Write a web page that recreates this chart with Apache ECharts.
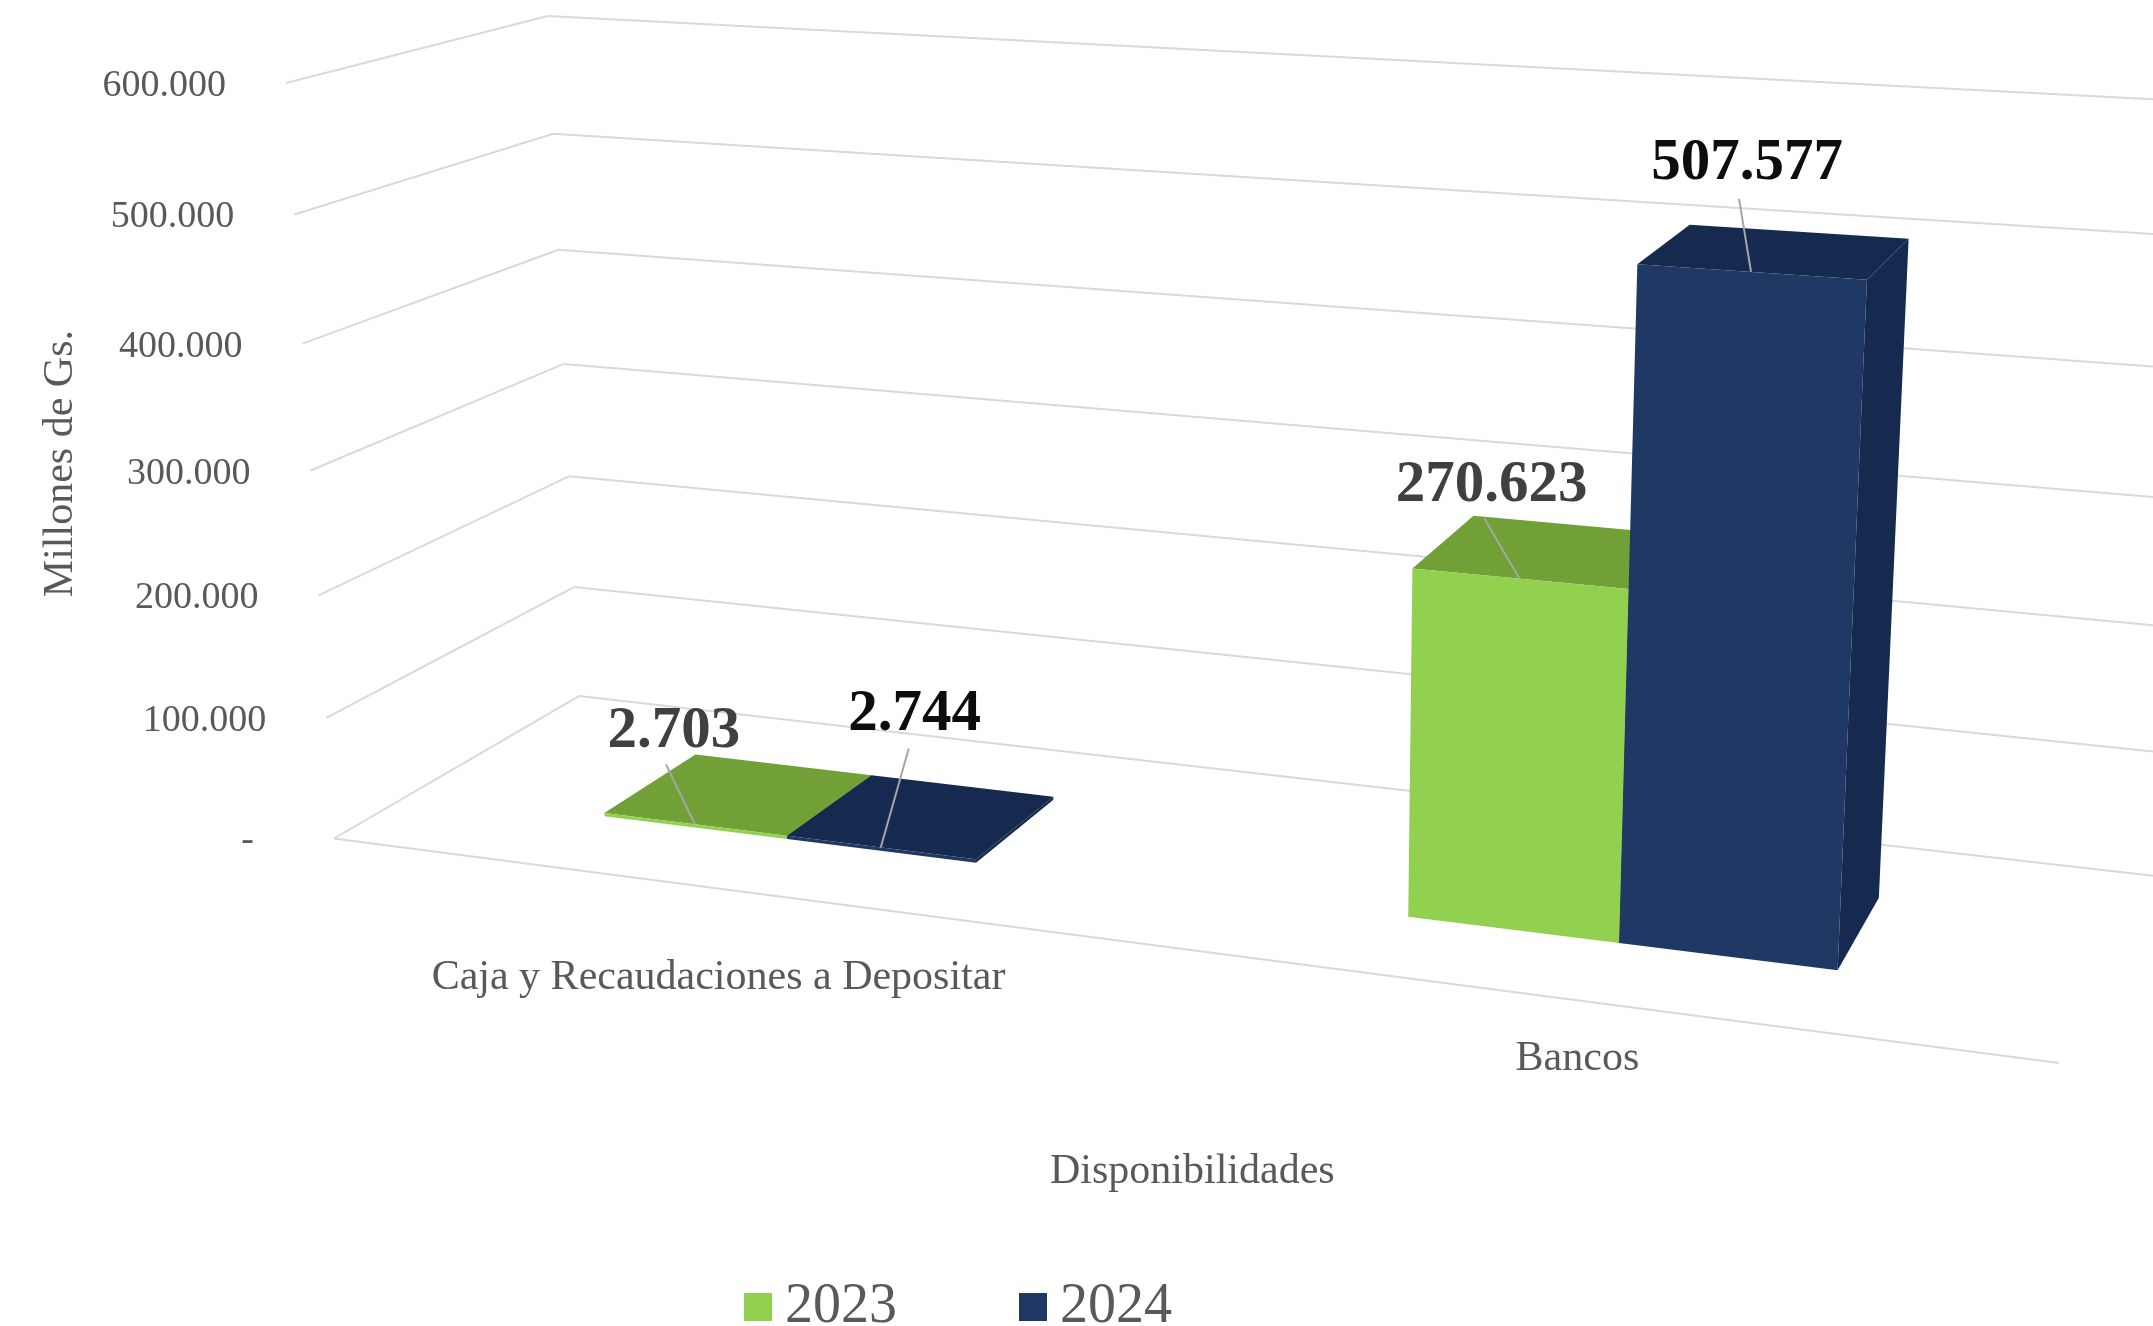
<!DOCTYPE html>
<html>
<head>
<meta charset="utf-8">
<title>Disponibilidades</title>
<style>
  html, body { margin: 0; padding: 0; background: #fff; }
  #chart { width: 2153px; height: 1326px; }
</style>
<script src="https://cdn.jsdelivr.net/npm/echarts@6/dist/echarts.min.js"></script>
</head>
<body>
<div id="chart"></div>
<script>
// data
var categories = ['Caja y Recaudaciones a Depositar', 'Bancos'];
var years = ['2023', '2024'];
var values2023 = [2703, 270623];
var values2024 = [2744, 507577];
var yTicks = [0, 100000, 200000, 300000, 400000, 500000, 600000];
var yTickLabels = ['-', '100.000', '200.000', '300.000', '400.000', '500.000', '600.000'];
var dataLabels2023 = ['2.703', '270.623'];
var dataLabels2024 = ['2.744', '507.577'];

var FONT = '"Liberation Serif", "Times New Roman", serif';
var GRID_COLOR = '#d9d9d9';
var TEXT_COLOR = '#595959';

// the floor/wall box drawn in perspective: three vanishing points + weights
var ORIGIN = [334, 838.5];
var VP_X = [-10313, -547], W_X = -0.13943;
var VP_Y = [1239, 15067], W_Y = -0.05042;
var VP_Z = [2691, -532], W_Z = 0.116;

function project(u, v, z) {
    var a = W_X * u, b = W_Y * v, c = W_Z * z;
    var d = 1 + a + b + c;
    return [
        (a * VP_X[0] + b * VP_Y[0] + c * VP_Z[0] + ORIGIN[0]) / d,
        (a * VP_X[1] + b * VP_Y[1] + c * VP_Z[1] + ORIGIN[1]) / d
    ];
}

// hidden grid is 1000x1000, so its pixels give the 0..1 box coordinates
var PLOT = 1000;
function toBox(api, cat, val) {
    var p = api.coord([cat, val]);
    return { u: p[0] / PLOT, v: (PLOT - p[1]) / PLOT };
}

var BAR_FRONT = 0.30, BAR_BACK = 0.70;
var BAR_SHARE = 0.24;   // bar width as part of a category band

function poly(points, color) {
    return { type: 'polygon', shape: { points: points }, style: { fill: color }, silent: true };
}
function line(p, q, color, width) {
    return {
        type: 'line',
        shape: { x1: p[0], y1: p[1], x2: q[0], y2: q[1] },
        style: { stroke: color, lineWidth: width, fill: null },
        silent: true
    };
}
function text(str, x, y, size, color, align, weight) {
    return {
        type: 'text',
        silent: true,
        style: {
            text: str, x: x, y: y, fill: color, align: align || 'center', verticalAlign: 'middle',
            fontFamily: FONT, fontSize: size, fontWeight: weight || 'normal'
        }
    };
}

function barRenderer(seriesPos, labels, pulls, labelColor, frontColor, darkColor) {
    return function (params, api) {
        var cat = api.value(0), val = api.value(1);
        var base = toBox(api, cat, 0), top = toBox(api, cat, val);
        var w = api.size([1, 0])[0] / PLOT * BAR_SHARE;
        var u0 = base.u + (seriesPos - 1) * w, u1 = u0 + w;
        var v0 = base.v, v1 = top.v;

        var children = [
            poly([project(u0, v1, BAR_FRONT), project(u0, v1, BAR_BACK), project(u1, v1, BAR_BACK), project(u1, v1, BAR_FRONT)], darkColor),
            poly([project(u1, v0, BAR_FRONT), project(u1, v0, BAR_BACK), project(u1, v1, BAR_BACK), project(u1, v1, BAR_FRONT)], darkColor),
            poly([project(u0, v0, BAR_FRONT), project(u1, v0, BAR_FRONT), project(u1, v1, BAR_FRONT), project(u0, v1, BAR_FRONT)], frontColor)
        ];

        // leader line and value label
        var foot = project((u0 + u1) / 2, v1, BAR_FRONT);
        var pull = pulls[cat];
        children.push(line(foot, [foot[0] + pull[0], foot[1] + pull[1]], '#a6a6a6', 2));
        children.push(text(labels[cat], foot[0] + pull[2], foot[1] + pull[3], 59, labelColor, 'center', 'bold'));
        return { type: 'group', children: children };
    };
}

function gridRenderer(params, api) {
    var i = params.dataIndex;
    var v = toBox(api, 0, api.value(0)).v;
    var a = project(0, v, 0), b = project(0, v, 1), c = project(1.012, v, 1);
    var children = [line(a, b, GRID_COLOR, 2), line(b, c, GRID_COLOR, 2)];
    if (i === 0) {
        children.push(line(a, project(1, v, 0), GRID_COLOR, 2));
    }
    var dx = i === 0 ? -80 : -60;
    children.push(text(yTickLabels[i], a[0] + dx, a[1] + 3, 38, TEXT_COLOR, 'right'));
    return { type: 'group', children: children };
}

var catLabelDrop = [89, 59];
function catRenderer(params, api) {
    var i = params.dataIndex;
    var b = toBox(api, api.value(0), 0);
    var p = project(b.u, b.v, 0);
    return text(categories[i], p[0], p[1] + catLabelDrop[i], 42, TEXT_COLOR);
}

var myChart = echarts.init(document.getElementById('chart'));

var option = {
    animation: false,
    backgroundColor: '#fff',
    grid: { left: 0, top: 0, width: PLOT, height: PLOT },
    xAxis: { type: 'category', data: categories, show: false },
    yAxis: { type: 'value', min: 0, max: 600000, interval: 100000, show: false },
    legend: {
        data: years,
        left: 739,
        top: 1274,
        icon: 'rect',
        itemWidth: 28,
        itemHeight: 28,
        itemGap: 122,
        textStyle: { fontFamily: FONT, fontSize: 56, color: TEXT_COLOR, padding: [0, 0, 0, 8] }
    },
    graphic: [
        {
            type: 'text', left: 40, top: 330, rotation: Math.PI / 2, silent: true,
            style: { text: 'Millones de Gs.', fontFamily: FONT, fontSize: 42, fill: TEXT_COLOR }
        },
        {
            type: 'text', left: 1050, top: 1151, silent: true,
            style: { text: 'Disponibilidades', fontFamily: FONT, fontSize: 42, fill: TEXT_COLOR }
        }
    ],
    series: [
        {
            name: 'grid', type: 'custom', silent: true,
            data: yTicks.map(function (t) { return [t]; }),
            encode: { y: 0 },
            renderItem: gridRenderer
        },
        {
            name: 'categories', type: 'custom', silent: true,
            data: categories.map(function (c, i) { return [i, 0]; }),
            encode: { x: 0, y: 1 },
            renderItem: catRenderer
        },
        {
            name: '2023', type: 'custom',
            itemStyle: { color: '#92d050' },
            data: values2023.map(function (v, i) { return [i, v]; }),
            encode: { x: 0, y: 1 },
            renderItem: barRenderer(0, dataLabels2023, [[-29, -60, -21, -93], [-35, -60, -28, -93]], '#404040', '#92d050', '#71a037')
        },
        {
            name: '2024', type: 'custom',
            itemStyle: { color: '#1f3864' },
            data: values2024.map(function (v, i) { return [i, v]; }),
            encode: { x: 0, y: 1 },
            renderItem: barRenderer(1, dataLabels2024, [[28, -99, 34, -133], [-12, -73, -4, -108]], '#0d0d0d', '#1f3864', '#162a4f')
        }
    ]
};

myChart.setOption(option);
</script>
</body>
</html>
